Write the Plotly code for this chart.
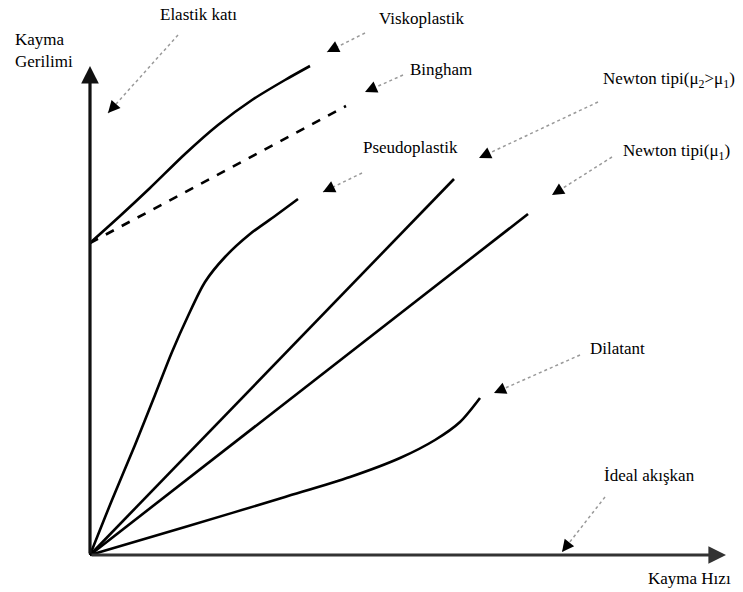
import plotly.graph_objects as go
import math

# Origin of the sketch axes (in page pixels) -- used to express data relative to the axes
OX, OY = 90, 555

# Curves (px, py, converted to axis data below)
visko_px = [90, 120, 150, 185, 218, 252, 285, 310]
visko_py = [243, 216, 188, 154, 125, 100, 80, 66]
bingham_px = [90, 346]
bingham_py = [243, 106]
pseudo_px = [90, 112, 135, 155, 172, 188, 205, 225, 250, 275, 298]
pseudo_py = [555, 500, 445, 395, 352, 316, 282, 257, 234, 216, 199]
newton2_px = [90, 454]
newton2_py = [555, 179]
newton1_px = [90, 528]
newton1_py = [555, 214]
dilat_px = [90, 185, 285, 350, 400, 435, 460, 480]
dilat_py = [555, 527, 497, 477, 458, 440, 422, 398]

# Labels: text, center x, center y, arrow tail x, tail y, head x, head y
labels = [
    ("Elastik katı", 198, 14, 178, 35, 108, 113),
    ("Viskoplastik", 421, 18, 365, 33, 327, 52),
    ("Bingham", 441, 69, 403, 75, 365, 92),
    ("Newton tipi(μ<sub>2</sub>&gt;μ<sub>1</sub>)", 669, 80, 598, 102, 479, 158),
    ("Pseudoplastik", 410, 147, 362, 173, 323, 192),
    ("Newton tipi(μ<sub>1</sub>)", 676, 152, 612, 157, 552, 195),
    ("Dilatant", 617, 348, 580, 355, 494, 393),
    ("İdeal akışkan", 649, 475, 605, 497, 562, 552),
]
y_title = ("Kayma<br>Gerilimi", 13, 50)
x_title = ("Kayma Hızı", 689, 578)
yaxis_tip = (90, 66)
xaxis_tip = (726, 555)


def dx(p):
    return [v - OX for v in p]


def dy(p):
    return [OY - v for v in p]


FONT = dict(family="Liberation Serif, Times New Roman, serif", size=17, color="black")

fig = go.Figure()
curves = [
    (visko_px, visko_py, "solid", "spline"),
    (bingham_px, bingham_py, "dash", "linear"),
    (pseudo_px, pseudo_py, "solid", "spline"),
    (newton2_px, newton2_py, "solid", "linear"),
    (newton1_px, newton1_py, "solid", "linear"),
    (dilat_px, dilat_py, "solid", "spline"),
]
for xs, ys, dash, shape in curves:
    fig.add_trace(go.Scatter(
        x=dx(xs), y=dy(ys), mode="lines",
        line=dict(color="black", width=2.6, dash=dash, shape=shape, smoothing=0.8),
        hoverinfo="skip", showlegend=False))

annotations = []
shapes = []
# Axes with arrow heads
annotations.append(dict(x=dx([yaxis_tip[0]])[0], y=dy([yaxis_tip[1]])[0], ax=0, ay=0,
                        xref="x", yref="y", axref="x", ayref="y", text="", showarrow=True,
                        arrowhead=2, arrowsize=1.1, arrowwidth=3.2, arrowcolor="#111"))
annotations.append(dict(x=dx([xaxis_tip[0]])[0], y=dy([xaxis_tip[1]])[0], ax=0, ay=0,
                        xref="x", yref="y", axref="x", ayref="y", text="", showarrow=True,
                        arrowhead=2, arrowsize=1.1, arrowwidth=3.2, arrowcolor="#333"))

for text, tx, ty, x0, y0, x1, y1 in labels:
    annotations.append(dict(x=dx([tx])[0], y=dy([ty])[0], xref="x", yref="y", text=text,
                            showarrow=False, font=FONT, xanchor="center", yanchor="middle"))
    shapes.append(dict(type="line", xref="x", yref="y",
                       x0=dx([x0])[0], y0=dy([y0])[0], x1=dx([x1])[0], y1=dy([y1])[0],
                       line=dict(color="#999", width=1.5, dash="dot")))
    L = math.hypot(x1 - x0, y1 - y0)
    bx, by = x1 - (x1 - x0) / L * 6, y1 - (y1 - y0) / L * 6
    annotations.append(dict(x=dx([x1])[0], y=dy([y1])[0], ax=dx([bx])[0], ay=dy([by])[0],
                            xref="x", yref="y", axref="x", ayref="y", text="", showarrow=True,
                            arrowhead=2, arrowsize=1.6, arrowwidth=1.5, arrowcolor="black"))

annotations.append(dict(x=dx([y_title[1]])[0], y=dy([y_title[2]])[0], xref="x", yref="y",
                        text=y_title[0], showarrow=False, font=FONT, xanchor="left",
                        yanchor="middle", align="left"))
annotations.append(dict(x=dx([x_title[1]])[0], y=dy([x_title[2]])[0], xref="x", yref="y",
                        text=x_title[0], showarrow=False, font=FONT, xanchor="center",
                        yanchor="middle"))

fig.update_layout(
    width=743, height=592,
    margin=dict(l=0, r=0, t=0, b=0),
    paper_bgcolor="white", plot_bgcolor="white",
    xaxis=dict(range=[-OX, 743 - OX], visible=False, fixedrange=True),
    yaxis=dict(range=[OY - 592, OY], visible=False, fixedrange=True),
    annotations=annotations, shapes=shapes,
    showlegend=False,
)
fig.write_html("out.html", config={"displayModeBar": False},
               post_script="document.body.style.margin='0';document.body.style.padding='0';document.body.style.overflow='hidden';")
